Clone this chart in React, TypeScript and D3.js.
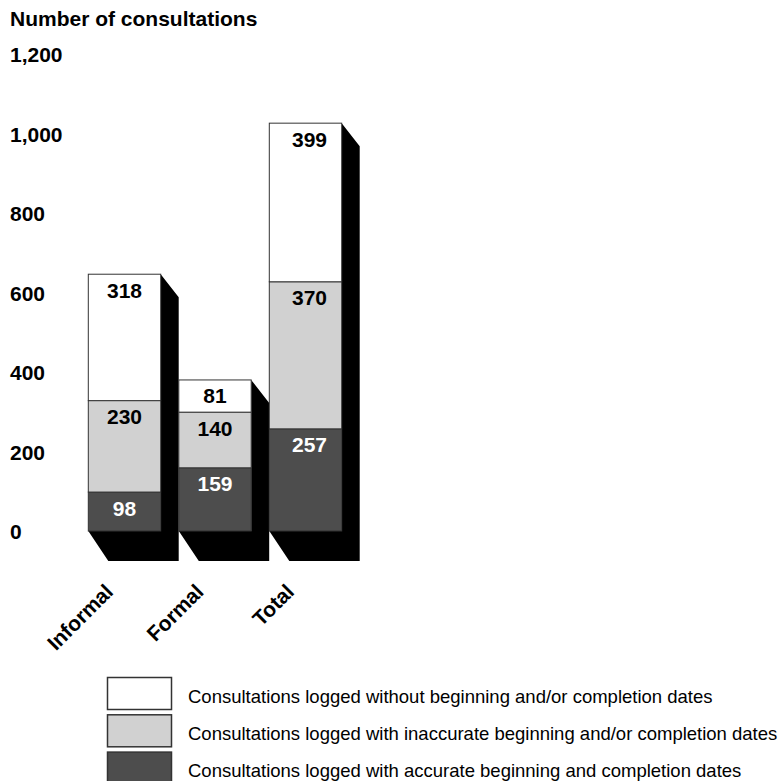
import React from "react";
import * as d3 from "d3";

const categories = ["Informal", "Formal", "Total"];
const accurate = [98, 159, 257];
const inaccurate = [230, 140, 370];
const withoutDates = [318, 81, 399];
const yTicks = [0, 200, 400, 600, 800, 1000, 1200];
const seriesLabels = [
  "Consultations logged without beginning and/or completion dates",
  "Consultations logged with inaccurate beginning and/or completion dates",
  "Consultations logged with accurate beginning and completion dates",
];
const seriesColors = ["#ffffff", "#d1d1d1", "#4d4d4d"];
const labelColors = ["#000000", "#000000", "#ffffff"];

const FONT = "'Liberation Sans', Arial, Helvetica, sans-serif";

export default function App() {
  const W = 783;
  const H = 781;
  const y = d3.scaleLinear().domain([0, 1200]).range([531, 54]);
  const x = d3.scaleBand<string>().domain(categories).range([88.3, 341.7]).paddingInner(0.2).paddingOuter(0);

  const rows = categories.map((c, i) => ({
    cat: c,
    accurate: accurate[i],
    inaccurate: inaccurate[i],
    without: withoutDates[i],
  }));
  const keys = ["accurate", "inaccurate", "without"];
  const stack = d3.stack<any>().keys(keys)(rows);
  const colorFor = (k: number) => seriesColors[2 - k];
  const labelColorFor = (k: number) => labelColors[2 - k];

  const bw = x.bandwidth();

  return (
    <div style={{ position: "absolute", left: 0, top: 0 }}>
      <svg width={W} height={H} style={{ display: "block", background: "#fff" }} fontFamily={FONT}>
        <text x={10} y={26} fontSize={21} fontWeight="bold" fill="#000">
          Number of consultations
        </text>
        {yTicks.map((t) => (
          <text key={t} x={10} y={y(t) + 8} fontSize={21} fontWeight="bold" fill="#000">
            {d3.format(",")(t)}
          </text>
        ))}
        {/* shadows */}
        {rows.map((r, i) => {
          const x0 = x(r.cat)!;
          const x1 = x0 + bw;
          const total = r.accurate + r.inaccurate + r.without;
          const top = y(total);
          const b = y(0);
          const pts = [
            [x1, top],
            [x1 + 18, top + 23],
            [x1 + 18, b + 30],
            [x0 + 20, b + 30],
            [x0, b],
            [x1, b],
          ];
          return <polygon key={"s" + i} points={pts.map((p) => p.join(",")).join(" ")} fill="#000" />;
        })}
        {/* bars */}
        {stack.map((s, k) =>
          s.map((d: any, i: number) => {
            const x0 = x(categories[i])!;
            return (
              <rect
                key={k + "-" + i}
                x={x0}
                y={y(d[1])}
                width={bw}
                height={y(d[0]) - y(d[1])}
                fill={colorFor(k)}
                stroke="#333"
                strokeWidth={1}
              />
            );
          })
        )}
        {/* value labels */}
        {stack.map((s, k) =>
          s.map((d: any, i: number) => {
            const x0 = x(categories[i])!;
            return (
              <text
                key={"l" + k + "-" + i}
                x={x0 + bw / 2 + (i === 2 ? 4 : 0)}
                y={y(d[1]) + 23.5}
                textAnchor="middle"
                fontSize={21}
                fontWeight="bold"
                fill={labelColorFor(k)}
              >
                {d[1] - d[0]}
              </text>
            );
          })
        )}
        {/* category labels */}
        {categories.map((c) => {
          const cx = x(c)! + bw / 2 - 10;
          const cy = 593;
          return (
            <text
              key={c}
              transform={`translate(${cx},${cy}) rotate(-45)`}
              textAnchor="end"
              fontSize={21}
              fontWeight="bold"
              fill="#000"
            >
              {c}
            </text>
          );
        })}
        {/* legend */}
        {seriesLabels.map((l, i) => {
          const ly = 677.5 + i * 37.3;
          return (
            <g key={l}>
              <rect x={107.5} y={ly} width={64} height={32} fill={seriesColors[i]} stroke="#333" strokeWidth={1.5} />
              <text x={188} y={ly + 25} fontSize={18.5} fill="#000">
                {l}
              </text>
            </g>
          );
        })}
      </svg>
    </div>
  );
}
